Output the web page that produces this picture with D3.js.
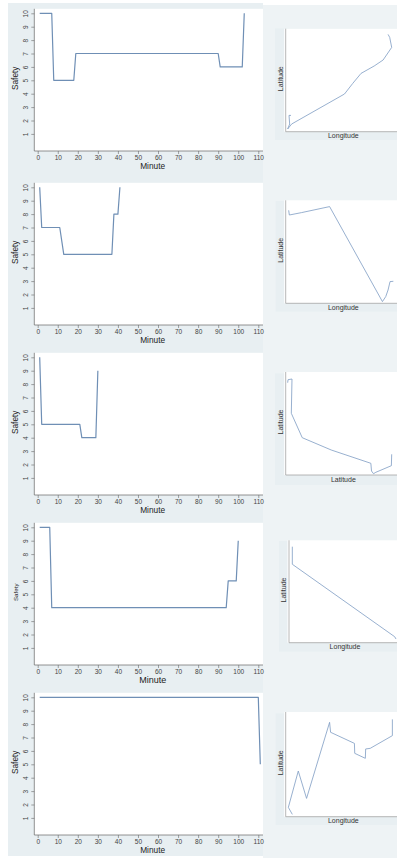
<!DOCTYPE html>
<html>
<head>
<meta charset="utf-8">
<script src="https://cdn.jsdelivr.net/npm/d3@7"></script>
<style>
  body { margin: 0; background: #ffffff; }
  svg { display: block; font-family: "Liberation Sans", Arial, Helvetica, sans-serif; }
</style>
</head>
<body>
<svg id="chart" width="397" height="858"></svg>
<script>
// ---- Safety score per minute for each trip (minutes where the score changes) ----
const trip1Minute = [1, 7, 8, 18, 19, 90, 91, 102, 103];
const trip1Safety = [10, 10, 5, 5, 7, 7, 6, 6, 10];

const trip2Minute = [1, 2, 11, 13, 37, 38, 40, 41];
const trip2Safety = [10, 7, 7, 5, 5, 8, 8, 10];

const trip3Minute = [1, 2, 21, 22, 29, 30];
const trip3Safety = [10, 5, 5, 4, 4, 9];

const trip4Minute = [1, 6, 7, 94, 95, 99, 100];
const trip4Safety = [10, 10, 4, 4, 6, 6, 9];

const trip5Minute = [1, 110, 111];
const trip5Safety = [10, 10, 5];

// ---- Axis ticks ----
const minuteTicks = [0, 10, 20, 30, 40, 50, 60, 70, 80, 90, 100, 110];
const safetyTicks = [1, 2, 3, 4, 5, 6, 7, 8, 9, 10];

// ---- Route traces (relative map units, 0-100 on each axis) ----
const route1Lon = [4.8, 3.0, 3.6, 1.8, 5.4, 53.3, 60.8, 68.3, 80.2, 88.3, 96.1, 94.3, 92.8];
const route1Lat = [16.3, 16.3, 7.7, 2.7, 7.7, 37.7, 48.3, 58.3, 65.7, 71.7, 84.3, 94.3, 97.3];

const route2Lon = [2.7, 3.3, 14.4, 39.8, 87.7, 90.7, 92.8, 94.6, 97.6];
const route2Lat = [93.0, 88.3, 90.7, 96.7, 1.7, 6.7, 13.3, 21.7, 22.0];

const route3Lon = [1.8, 2.1, 5.7, 5.1, 15.0, 41.3, 77.2, 77.8, 79.6, 81.7, 95.8, 96.1];
const route3Lat = [92.3, 95.3, 96.0, 61.7, 37.3, 25.0, 11.7, 4.0, 1.3, 2.7, 9.3, 20.7];

const route4Lon = [3.1, 3.1, 98.8, 100];
const route4Lat = [96.6, 78.9, 6.0, 3.7];

const route5Lon = [6.0, 2.4, 11.4, 18.9, 39.8, 40.7, 62.3, 62.6, 72.2, 72.5, 76.6, 96.7, 96.7];
const route5Lat = [2.3, 9.2, 44.9, 18.0, 92.8, 83.0, 72.1, 62.3, 57.4, 66.6, 67.2, 79.7, 95.7];

// Axis titles for each route map
const mapXTitles = ["Longitude", "Longitude", "Latitude", "Longitude", "Longitude"];
const mapYTitles = ["Latitude", "Latitude", "Latitude", "Latitude", "Latitude"];

// ---- Assemble ----
const trips = [
  [trip1Minute, trip1Safety],
  [trip2Minute, trip2Safety],
  [trip3Minute, trip3Safety],
  [trip4Minute, trip4Safety],
  [trip5Minute, trip5Safety]
].map(([m, s]) => m.map((v, i) => ({ minute: v, safety: s[i] })));

const routes = [
  [route1Lon, route1Lat],
  [route2Lon, route2Lat],
  [route3Lon, route3Lat],
  [route4Lon, route4Lat],
  [route5Lon, route5Lat]
].map(([lo, la]) => lo.map((v, i) => ({ lon: v, lat: la[i] })));

// ---- Layout ----
const svg = d3.select("#chart");
const LINE = "#6f8fb5";
const GRAPH_BG = "#e8eff2";
const SIDE_BG = "#eef3f5";

// vertical position of the "10" gridline in each safety panel
const panelTop = [13.3, 187.3, 357.3, 527.3, 697.3];
const unit = 13.4;
const xLeft = 34.3, xRight = 263;

// route map frames: y-axis x, right edge, x-axis y, top of data area, box
const mapFrames = [
  { x0: 285.7, x1: 397, y0: 131.7, y1: 31.7, bx: 275,   by: 28.3,  bh: 111.7 },
  { x0: 285.7, x1: 397, y0: 303.3, y1: 203.3, bx: 275.7, by: 201,   bh: 110.7 },
  { x0: 285.7, x1: 397, y0: 475,   y1: 375,   bx: 275,   by: 373.3, bh: 111.7 },
  { x0: 289,   x1: 397, y0: 642.7, y1: 543.3, bx: 279,   by: 541,   bh: 110.7 },
  { x0: 285.7, x1: 397, y0: 816.7, y1: 715,   bx: 275.7, by: 713.3, bh: 111.7 }
];

// backgrounds
svg.append("rect").attr("x", 263).attr("y", 5).attr("width", 134).attr("height", 853).attr("fill", SIDE_BG);
svg.append("rect").attr("x", 8).attr("y", 3).attr("width", xRight - 8).attr("height", 853).attr("fill", GRAPH_BG);

const x = d3.scaleLinear().domain([0, 110]).range([37.7, 258.3]);

trips.forEach((data, i) => {
  const top = panelTop[i];
  const y = d3.scaleLinear().domain([0, 10]).range([top + 10 * unit, top]);
  const axisY = top + 137.7;
  const g = svg.append("g");

  // plot region
  g.append("rect").attr("x", xLeft).attr("y", top - 4.5)
    .attr("width", xRight - xLeft).attr("height", axisY - (top - 4.5)).attr("fill", "#ffffff");

  // y axis
  const ya = g.append("g").attr("transform", `translate(${xLeft},0)`)
    .call(d3.axisLeft(y).tickValues(safetyTicks).tickSize(3).tickSizeOuter(0));
  ya.select(".domain").remove();
  ya.selectAll(".tick line").attr("stroke", "#666").attr("stroke-width", 0.6);
  ya.selectAll(".tick text")
    .attr("x", null).attr("dy", null)
    .attr("transform", "translate(-6.8,0) rotate(-90)")
    .attr("text-anchor", "middle")
    .attr("font-size", 6.5).attr("fill", "#444");
  g.append("line").attr("x1", xLeft).attr("x2", xLeft).attr("y1", top - 4.5).attr("y2", axisY)
    .attr("stroke", "#666").attr("stroke-width", 0.7);

  // x axis
  const xa = g.append("g").attr("transform", `translate(0,${axisY})`)
    .call(d3.axisBottom(x).tickValues(minuteTicks).tickSize(3).tickSizeOuter(0));
  xa.select(".domain").remove();
  xa.selectAll(".tick line").attr("stroke", "#666").attr("stroke-width", 0.6);
  xa.selectAll(".tick text")
    .attr("y", 4).attr("dy", "0.71em")
    .attr("font-size", 6.5).attr("fill", "#444");
  g.append("line").attr("x1", xLeft).attr("x2", xRight).attr("y1", axisY).attr("y2", axisY)
    .attr("stroke", "#666").attr("stroke-width", 0.7);

  // axis titles
  const small = i === 3;
  g.append("text")
    .attr("transform", `translate(${small ? 17.5 : 18},${top + 65}) rotate(-90)`)
    .attr("text-anchor", "middle")
    .attr("font-size", small ? 6.2 : 8.3).attr("fill", "#222")
    .text("Safety");
  g.append("text")
    .attr("x", (xLeft + xRight) / 2 + 4).attr("y", top + 152.8 + (small ? 3.3 : 3))
    .attr("text-anchor", "middle")
    .attr("font-size", small ? 9 : 8.3).attr("fill", "#222")
    .text("Minute");

  // safety trace
  g.append("path").datum(data)
    .attr("fill", "none").attr("stroke", LINE).attr("stroke-width", 1.2)
    .attr("stroke-linejoin", "round")
    .attr("d", d3.line().x(d => x(d.minute)).y(d => y(d.safety)));
});

routes.forEach((data, i) => {
  const f = mapFrames[i];
  const g = svg.append("g");
  const mx = d3.scaleLinear().domain([0, 100]).range([f.x0, f.x1 - 1]);
  const my = d3.scaleLinear().domain([0, 100]).range([f.y0, f.y1]);

  g.append("rect").attr("x", f.bx).attr("y", f.by).attr("width", 397 - f.bx).attr("height", f.bh)
    .attr("fill", GRAPH_BG);
  g.append("rect").attr("x", f.x0 - 1.5).attr("y", f.y1 - 3)
    .attr("width", 397 - f.x0 + 1.5).attr("height", f.y0 - f.y1 + 3).attr("fill", "#ffffff");

  g.append("line").attr("x1", f.x0).attr("x2", f.x0).attr("y1", f.y1 - 3).attr("y2", f.y0)
    .attr("stroke", "#999").attr("stroke-width", 0.7);
  g.append("line").attr("x1", f.x0).attr("x2", 397).attr("y1", f.y0).attr("y2", f.y0)
    .attr("stroke", "#999").attr("stroke-width", 0.7);

  g.append("text")
    .attr("transform", `translate(${f.x0 - 3},${(f.y0 + f.y1) / 2 - 3}) rotate(-90)`)
    .attr("text-anchor", "middle").attr("font-size", 7).attr("fill", "#333")
    .text(mapYTitles[i]);
  g.append("text")
    .attr("x", (f.x0 + 397) / 2 + 2).attr("y", f.y0 + 6.5)
    .attr("text-anchor", "middle").attr("font-size", 7).attr("fill", "#333")
    .text(mapXTitles[i]);

  g.append("path").datum(data)
    .attr("fill", "none").attr("stroke", "#7d9cc3").attr("stroke-width", 0.8)
    .attr("stroke-linejoin", "round")
    .attr("d", d3.line().x(d => mx(d.lon)).y(d => my(d.lat)));
});
</script>
</body>
</html>
